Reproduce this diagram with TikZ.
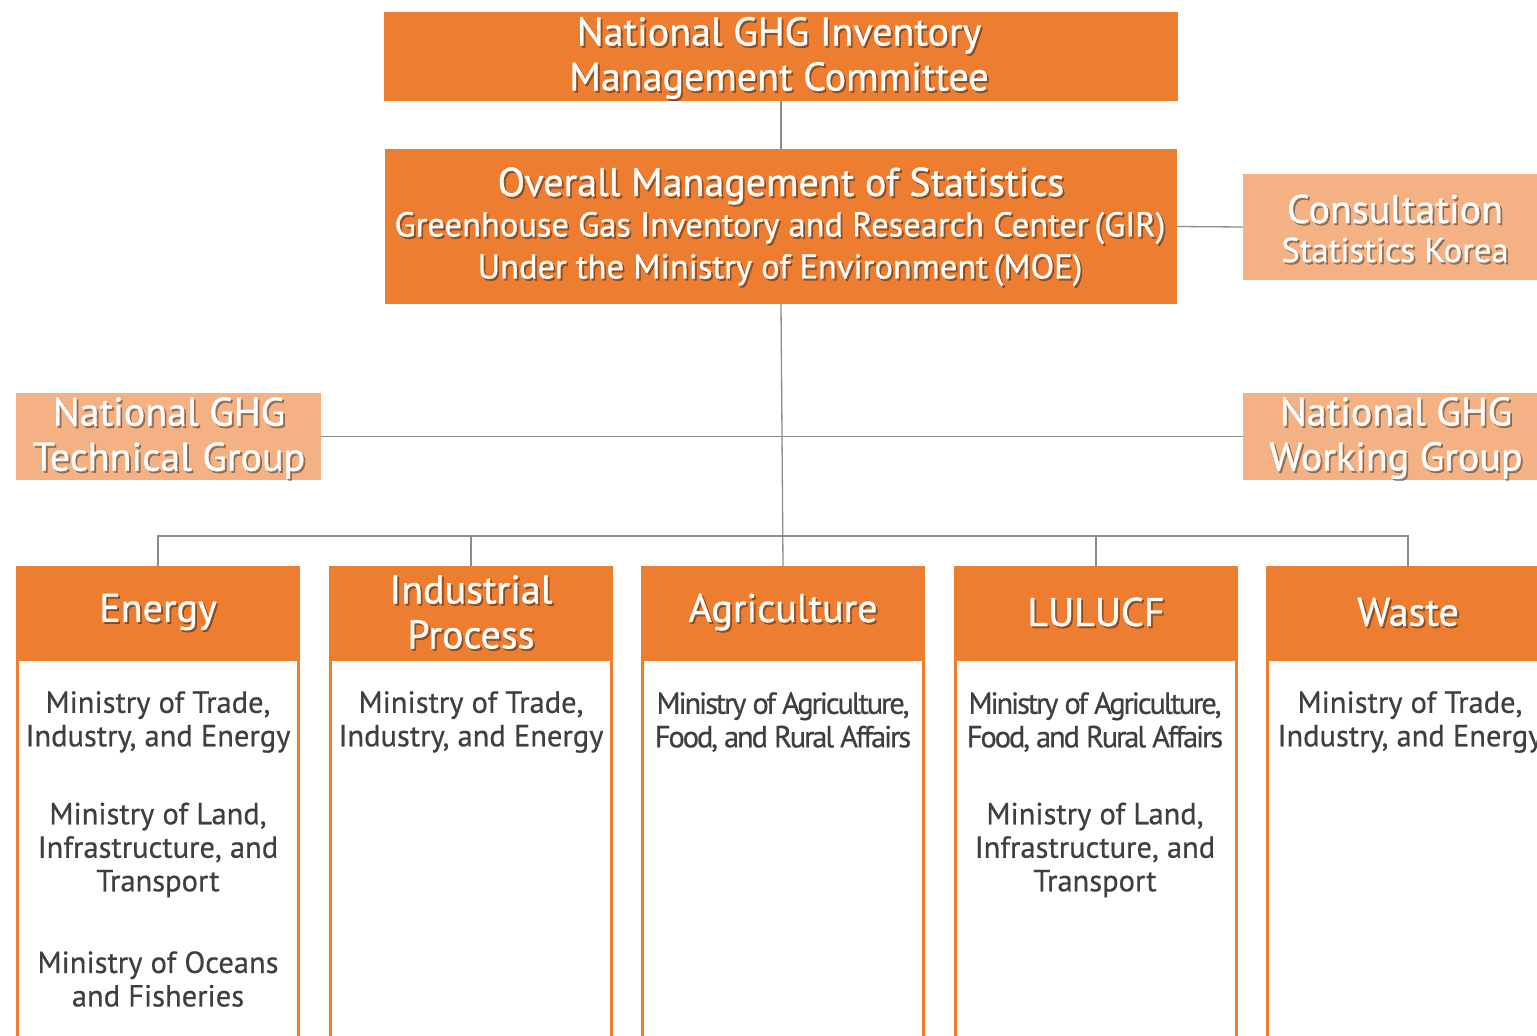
\documentclass[tikz,border=0pt]{standalone}
\usepackage{fontspec}
\setmainfont{PT Sans}
\newfontfamily\headfont{PT Sans}[FakeBold=0.9]
\newfontfamily\bodyfont{PT Sans}[FakeBold=0.5]
\newfontfamily\tightfont{PT Sans}[LetterSpace=-7, FakeBold=0.5]
\definecolor{orangeD}{HTML}{ED7D31}
\definecolor{orangeL}{HTML}{F4B183}
\definecolor{lineG}{HTML}{8C8C8C}
\definecolor{bodyG}{HTML}{3F3F3F}
% white label with a soft drop shadow
\newcommand\shtext[4]{%
  \node[#3, text=black, opacity=0.35] (#1-sh) at ([shift={(1.8,2.0)}]#2) {#4};
  \node[#3, text=white] (#1) at (#2) {#4};}
\begin{document}
\begin{tikzpicture}[x=1pt,y=-1pt,
  box/.style={fill=orangeD, draw=none, inner sep=0, outer sep=0},
  lbox/.style={fill=orangeL, draw=none, inner sep=0, outer sep=0},
  hdr/.style={box, minimum width=284, minimum height=93, anchor=north west},
  colb/.style={fill=white, draw=orangeD, line width=3pt, minimum width=281, minimum height=420, anchor=north, inner sep=0, outer sep=0},
  conn/.style={draw=lineG, line width=1.3pt},
  big/.style={font=\fontsize{40}{45}\headfont, align=center, inner sep=0},
  mid/.style={font=\fontsize{34.5}{42}\headfont, align=center, inner sep=0},
  body/.style={text=bodyG, font=\fontsize{30.5}{33.5}\bodyfont, align=center, inner sep=0},
  tbody/.style={text=bodyG, font=\fontsize{30.5}{33.5}\tightfont, align=center, inner sep=0}]
\useasboundingbox (0,0) rectangle (1537,1036);
\clip (0,0) rectangle (1537,1036);

% top level boxes
\node[box, minimum width=794, minimum height=89] (nc) at (781,56.5) {};
\node[box, minimum width=792, minimum height=155] (om) at (781,226.5) {};
\node[lbox, minimum width=300, minimum height=106] (cons) at (1393,227) {};
\node[lbox, minimum width=305, minimum height=87] (tg) at (168.5,436.5) {};
\node[lbox, minimum width=300, minimum height=87] (wg) at (1393,436.5) {};

% sector columns
\foreach \i/\x in {1/16, 2/329, 3/641, 4/954, 5/1266} {
  \node[hdr] (h\i) at (\x,566) {};
  \node[colb] (b\i) at (h\i.south) {};
}

% connectors
\coordinate (bus) at (0,536);
\draw[conn] (nc.south) -- (om.north);
\draw[conn] (om.east) -- (cons.west);
\draw[conn] (om.south) -- (h3.north);
\draw[conn] (tg.east) -- (wg.west);
\draw[conn] (h1.north) -- (h1.north |- bus) -- (h5.north |- bus) -- (h5.north);
\draw[conn] (h2.north) -- (h2.north |- bus);
\draw[conn] (h4.north) -- (h4.north |- bus);

% labels
\shtext{ncT}{779,58}{big}{National GHG Inventory\\Management Committee}
\shtext{omT1}{781,186}{big}{Overall Management of Statistics}
\shtext{omT2}{780,249}{mid}{Greenhouse Gas Inventory and Research Center\,(GIR)\\Under the Ministry of Environment\,(MOE)}
\shtext{consT1}{1395,209}{big}{Consultation}
\shtext{consT2}{1395,250}{mid}{Statistics Korea}
\shtext{tgT}{169,438}{big}{National GHG\\Technical Group}
\shtext{wgT}{1396,438}{big}{National GHG\\Working Group}

\shtext{h1T}{158,612}{big}{Energy}
\shtext{h2T}{471,612}{big}{Industrial\\Process}
\shtext{h3T}{783,612}{big}{Agriculture}
\shtext{h4T}{1096,612}{big}{LULUCF}
\shtext{h5T}{1408,612}{big}{Waste}

% ministries
\node[body] (e1) at (158,722) {Ministry of Trade,\\Industry, and Energy};
\node[body] (e2) at (158,850) {Ministry of Land,\\Infrastructure, and\\Transport};
\node[body] (e3) at (158,979) {Ministry of Oceans\\and Fisheries};
\node[body] (i1) at (471,722) {Ministry of Trade,\\Industry, and Energy};
\node[tbody] (a1) at (783,722) {Ministry of Agriculture,\\Food, and Rural Affairs};
\node[tbody] (l1) at (1095,722) {Ministry of Agriculture,\\Food, and Rural Affairs};
\node[body] (l2) at (1095,850) {Ministry of Land,\\Infrastructure, and\\Transport};
\node[body] (w1) at (1410,722) {Ministry of Trade,\\Industry, and Energy};
\end{tikzpicture}
\end{document}
